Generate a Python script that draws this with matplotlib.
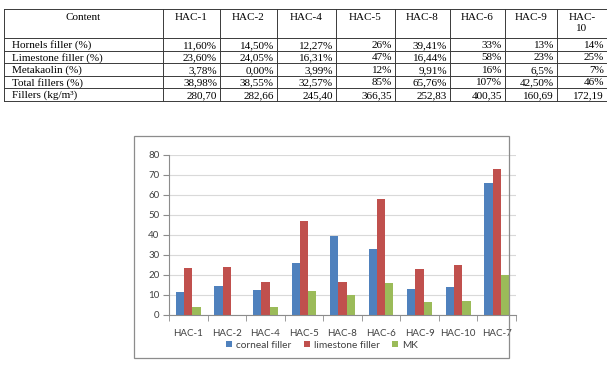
import matplotlib.pyplot as plt
import numpy as np
from matplotlib.lines import Line2D
from matplotlib.patches import Rectangle

# ---- table data ----
table_header = ['Content', 'HAC-1', 'HAC-2', 'HAC-4', 'HAC-5', 'HAC-8', 'HAC-6', 'HAC-9', 'HAC-\n10']
row_labels = ['Hornels filler (%)', 'Limestone filler (%)', 'Metakaolin (%)',
              'Total fillers (%)', 'Fillers (kg/m³)']
row_hornels = ['11,60%', '14,50%', '12,27%', '26%', '39,41%', '33%', '13%', '14%']
row_limestone = ['23,60%', '24,05%', '16,31%', '47%', '16,44%', '58%', '23%', '25%']
row_meta = ['3,78%', '0,00%', '3,99%', '12%', '9,91%', '16%', '6,5%', '7%']
row_total = ['38,98%', '38,55%', '32,57%', '85%', '65,76%', '107%', '42,50%', '46%']
row_kg = ['280,70', '282,66', '245,40', '366,35', '252,83', '400,35', '160,69', '172,19']

# ---- chart data ----
categories = ['HAC-1', 'HAC-2', 'HAC-4', 'HAC-5', 'HAC-8', 'HAC-6', 'HAC-9', 'HAC-10', 'HAC-7']
corneal = [11.6, 14.5, 12.27, 26, 39.41, 33, 13, 14, 66]
limestone = [23.6, 24.05, 16.31, 47, 16.44, 58, 23, 25, 73]
mk = [3.78, 0, 3.99, 12, 9.91, 16, 6.5, 7, 20]
yticks = [0, 10, 20, 30, 40, 50, 60, 70, 80]

W, H = 607, 368
fig = plt.figure(figsize=(W / 100, H / 100), dpi=100)


def fx(x):
    return x / W


def fy(y):
    return 1 - y / H


# ---- table ----
col_x = [4, 163, 220, 277, 336, 395, 450, 505, 557, 607]
row_y = [9, 38, 51, 63, 76, 88, 101]
lc = '#3a3a3a'
for x in col_x:
    fig.add_artist(Line2D([fx(x), fx(x)], [fy(row_y[0]), fy(row_y[-1])],
                          color=lc, lw=0.7, transform=fig.transFigure))
for y in row_y:
    fig.add_artist(Line2D([fx(col_x[0]), fx(col_x[-1])], [fy(y), fy(y)],
                          color=lc, lw=0.7, transform=fig.transFigure))

serif = 'Liberation Serif'
fs = 8
for i, h in enumerate(table_header):
    cx = (col_x[i] + col_x[i + 1]) / 2
    fig.text(fx(cx), fy(12.5), h, ha='center', va='top', fontsize=fs,
             family=serif, linespacing=1.4)

rows = [row_hornels, row_limestone, row_meta, row_total, row_kg]
for r, (lab, vals) in enumerate(zip(row_labels, rows)):
    yc = (row_y[r + 1] + row_y[r + 2]) / 2 + 0.8
    fig.text(fx(12), fy(yc), lab, ha='left', va='center', fontsize=fs, family=serif)
    for j, v in enumerate(vals):
        fig.text(fx(col_x[j + 2] - 3), fy(yc), v, ha='right', va='center',
                 fontsize=fs, family=serif)

# ---- chart ----
fig.add_artist(Rectangle((fx(134), fy(358)), fx(509) - fx(134), fy(136) - fy(358),
                         fill=False, edgecolor='#8c8c8c', lw=0.9,
                         transform=fig.transFigure))

ax = fig.add_axes([fx(169), fy(315), fx(516) - fx(169), fy(155) - fy(315)])
x = np.arange(len(categories))
w = 0.215
ax.bar(x - w, corneal, w, color='#4F81BD', label='corneal filler')
ax.bar(x, limestone, w, color='#C0504D', label='limestone filler')
ax.bar(x + w, mk, w, color='#9BBB59', label='MK')

ax.set_xlim(-0.5, len(categories) - 0.5)
ax.set_ylim(0, 80)
ax.set_yticks(yticks)
ax.set_xticks(x)
ax.set_xticklabels(categories)
ax.set_xticks(np.arange(len(categories) + 1) - 0.5, minor=True)
ax.yaxis.grid(True, color='#d9d9d9', lw=0.8)
ax.set_axisbelow(True)
for s in ['top', 'right']:
    ax.spines[s].set_visible(False)
for s in ['left', 'bottom']:
    ax.spines[s].set_color('#8c8c8c')
    ax.spines[s].set_linewidth(0.8)
ax.tick_params(axis='x', which='major', length=0, pad=10, labelsize=7,
               labelcolor='#404040', labelfontfamily='Lato')
ax.tick_params(axis='x', which='minor', length=4, color='#8c8c8c')
ax.tick_params(axis='y', length=4, color='#8c8c8c', labelsize=7,
               labelcolor='#404040', labelfontfamily='Lato', pad=3)

fig.legend(loc='center', bbox_to_anchor=(fx(322), fy(345)), ncol=3, frameon=False,
           prop={'family': 'Lato', 'size': 7.3}, labelcolor='#404040',
           handlelength=0.6, handleheight=0.6, handletextpad=0.4, columnspacing=1.2)

fig.savefig('out.png', dpi=100)
